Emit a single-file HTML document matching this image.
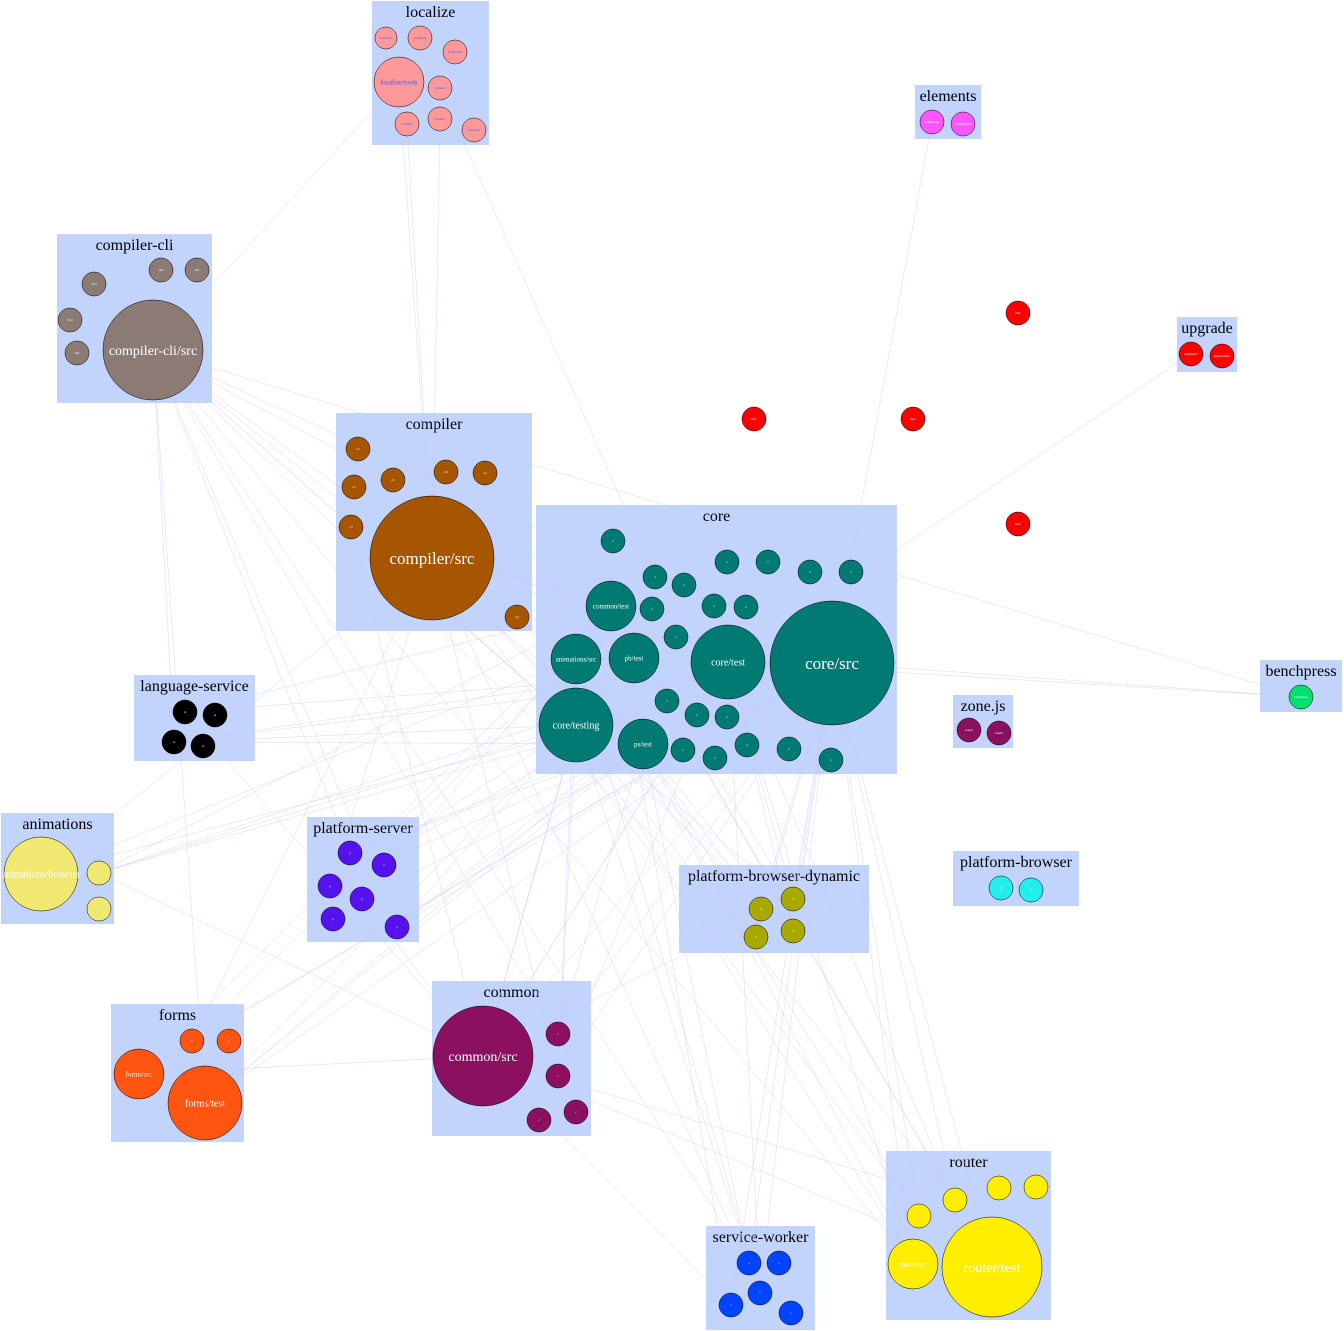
<!DOCTYPE html>
<html><head><meta charset="utf-8"><title>Dependency graph</title>
<style>
html,body{margin:0;padding:0;background:#fff;}
svg{display:block;font-family:"Liberation Serif",serif;}
</style></head>
<body>
<svg id="g" width="1344" height="1331" viewBox="0 0 1344 1331">
<g id="clusters"></g><g id="edges"></g><g id="nodes"></g>
</svg>
<script>
const clusterNames=["localize","elements","compiler-cli","upgrade","compiler","core","benchpress","zone.js","language-service","animations","platform-server","platform-browser-dynamic","platform-browser","forms","common","router","service-worker"];
const clusterBoxes=[[372,1,117,144],[915,85,66,54],[57,234,155,169],[1177,317,60,55],[336,413,196,218],[536,505,361,269],[1260,660,82,52],[953,695,60,53],[134,675,121,86],[1,813,113,111],[307,817,112,125],[679,865,190,88],[953,851,126,55],[111,1004,133,138],[432,981,159,155],[886,1151,165,169],[706,1226,109,104]];
const clusterColors={"localize":"#ff9999","elements":"#ff55ff","compiler-cli":"#8c7b75","upgrade":"#ff0000","compiler":"#a65500","core":"#007a72","benchpress":"#00e070","zone.js":"#8b1060","language-service":"#000000","animations":"#f0e870","platform-server":"#5511ee","platform-browser-dynamic":"#a8a800","platform-browser":"#22eeee","forms":"#ff5511","common":"#8b1060","router":"#ffee00","service-worker":"#0044ff","loose":"#ff0000"};
const nodes=[
["loc-tools","localize",399,82,25,"localize/tools"],["loc1","localize",386,38,11,"localize/src"],["loc2","localize",420,38,12,"localize/init"],["loc3","localize",455,52,12,"localize/test"],["loc4","localize",440,88,12,"localize/x"],["loc5","localize",440,119,12,"localize/y"],["loc6","localize",407,124,12,"localize/z"],["loc7","localize",474,130,12,"localize/w"],
["el1","elements",932,122,12,"elements/src"],["el2","elements",963,124,12,"elements/test"],
["cli-src","compiler-cli",153,350,50,"compiler-cli/src"],["cli1","compiler-cli",94,284,12,"cli/a"],["cli2","compiler-cli",161,270,12,"cli/b"],["cli3","compiler-cli",197,270,12,"cli/c"],["cli4","compiler-cli",70,320,12,"cli/d"],["cli5","compiler-cli",77,353,12,"cli/e"],
["up1","upgrade",1191,354,12,"upgrade/src"],["up2","upgrade",1222,356,12,"upgrade/static"],
["lo1","loose",1018,313,12,"misc"],["lo2","loose",754,419,12,"misc"],["lo3","loose",913,419,12,"misc"],["lo4","loose",1018,524,12,"misc"],
["comp-src","compiler",432,558,62,"compiler/src"],["cp1","compiler",358,449,12,"c/a"],["cp2","compiler",393,480,12,"c/b"],["cp3","compiler",354,487,12,"c/c"],["cp4","compiler",446,472,12,"c/d"],["cp5","compiler",485,473,12,"c/e"],["cp6","compiler",351,527,12,"c/f"],["cp7","compiler",517,617,12,"c/g"],
["core-src","core",832,663,62,"core/src"],["core-test","core",728,662,37,"core/test"],["core-testing","core",576,725,37,"core/testing"],["anim-src","core",576,659,25,"animations/src"],["common-test","core",611,606,25,"common/test"],["pb-test","core",634,658,25,"pb/test"],["ps-test","core",643,744,25,"ps/test"],
["co1","core",613,541,12,"x"],["co2","core",655,577,12,"x"],["co3","core",684,585,12,"x"],["co4","core",727,562,12,"x"],["co5","core",768,562,12,"x"],["co6","core",810,572,12,"x"],["co7","core",851,572,12,"x"],["co8","core",652,609,12,"x"],["co9","core",676,637,12,"x"],["co10","core",714,606,12,"x"],["co11","core",746,607,12,"x"],["co12","core",667,701,12,"x"],["co13","core",697,715,12,"x"],["co14","core",727,717,12,"x"],["co15","core",683,750,12,"x"],["co16","core",715,758,12,"x"],["co17","core",747,745,12,"x"],["co18","core",789,749,12,"x"],["co19","core",831,760,12,"x"],
["bp1","benchpress",1301,697,12,"benchpress"],
["zj1","zone.js",969,730,12,"zone/a"],["zj2","zone.js",999,733,12,"zone/b"],
["ls1","language-service",185,712,12,"ls"],["ls2","language-service",215,715,12,"ls"],["ls3","language-service",174,742,12,"ls"],["ls4","language-service",203,746,12,"ls"],
["anb","animations",41,874,37,"animations/browser"],["an1","animations",99,873,12,"a"],["an2","animations",99,909,12,"a"],
["ps1","platform-server",350,853,12,"p"],["ps2","platform-server",384,865,12,"p"],["ps3","platform-server",330,886,12,"p"],["ps4","platform-server",362,899,12,"p"],["ps5","platform-server",333,919,12,"p"],["ps6","platform-server",397,927,12,"p"],
["pbd1","platform-browser-dynamic",761,909,12,"d"],["pbd2","platform-browser-dynamic",793,899,12,"d"],["pbd3","platform-browser-dynamic",756,937,12,"d"],["pbd4","platform-browser-dynamic",793,931,12,"d"],
["pb1","platform-browser",1001,888,12,"b"],["pb2","platform-browser",1031,890,12,"b"],
["forms-src","forms",139,1074,25,"forms/src"],["forms-test","forms",205,1103,37,"forms/test"],["fo1","forms",192,1041,12,"f"],["fo2","forms",229,1041,12,"f"],
["common-src","common",483,1056,50,"common/src"],["cm1","common",558,1034,12,"c"],["cm2","common",558,1076,12,"c"],["cm3","common",539,1120,12,"c"],["cm4","common",576,1112,12,"c"],
["router-test","router",992,1267,50,"router/test"],["ro1","router",913,1264,25,"router/src"],["ro2","router",919,1216,12,"r"],["ro3","router",955,1200,12,"r"],["ro4","router",999,1188,12,"r"],["ro5","router",1036,1187,12,"r"],
["sw1","service-worker",749,1263,12,"s"],["sw2","service-worker",779,1263,12,"s"],["sw3","service-worker",760,1293,12,"s"],["sw4","service-worker",731,1305,12,"s"],["sw5","service-worker",791,1313,12,"s"]
];
const hubs=["core-src","core-test","core-testing","comp-src","common-src","cli-src","anim-src","common-test","ps-test"];
const targets=["ls1","ls3","anb","an1","ps1","ps3","ps4","ps6","pbd1","pbd2","pbd3","pbd4","forms-src","forms-test","fo1","common-src","cm1","cm2","router-test","ro1","ro2","ro3","sw1","sw3","sw4","cli-src","comp-src","cp6","cp7","core-src","core-test","core-testing"];
const extraEdges=[["el1","core-src"],["up1","core-test"],["bp1","core-src"],["bp1","core-test"],["loc-tools","comp-src"],["loc6","comp-src"],["loc5","comp-src"],["loc4","co2"],["loc-tools","cli-src"],["cli-src","bp1"]];

const NS="http://www.w3.org/2000/svg";
const byId={};nodes.forEach(n=>byId[n[0]]=n);
const cg=document.getElementById('clusters');
clusterNames.forEach((name,i)=>{
  const b=clusterBoxes[i];
  const r=document.createElementNS(NS,'rect');
  r.setAttribute('x',b[0]);r.setAttribute('y',b[1]);r.setAttribute('width',b[2]);r.setAttribute('height',b[3]);
  r.setAttribute('fill','#c2d3fc');
  
  
  cg.appendChild(r);
  const t=document.createElementNS(NS,'text');
  t.setAttribute('x',b[0]+b[2]/2);t.setAttribute('y',b[1]+16);
  t.setAttribute('text-anchor','middle');t.setAttribute('font-size','16');t.setAttribute('fill','#000');
  t.textContent=name;
  
  
  cg.appendChild(t);
});
const eg=document.getElementById('edges');
function edge(a,b){
  const l=document.createElementNS(NS,'line');
  l.setAttribute('x1',a[2]);l.setAttribute('y1',a[3]);l.setAttribute('x2',b[2]);l.setAttribute('y2',b[3]);
  l.setAttribute('stroke','#c4caff');l.setAttribute('stroke-width','0.5');l.setAttribute('stroke-opacity','0.75');
  
  
  eg.appendChild(l);
}
let k=0;
hubs.forEach((h,hi)=>{
  targets.forEach(tname=>{
    k++;
    if(h===tname) return;
    if(hi>2 && (k%3)!==0) return;
    if(hi>0 && hi<=2 && (k%2)!==0) return;
    edge(byId[h],byId[tname]);
  });
});
extraEdges.forEach(e=>edge(byId[e[0]],byId[e[1]]));
const ng=document.getElementById('nodes');
nodes.forEach(n=>{
  const c=document.createElementNS(NS,'circle');
  c.setAttribute('cx',n[2]);c.setAttribute('cy',n[3]);c.setAttribute('r',n[4]);
  c.setAttribute('fill',clusterColors[n[1]]);c.setAttribute('stroke','#000');c.setAttribute('stroke-width','0.5');
  
  
  ng.appendChild(c);
  const t=document.createElementNS(NS,'text');
  const fs=n[4]>=60?17:n[4]>=45?14:n[4]>=35?10:n[4]>=20?7:3;
  t.setAttribute('x',n[2]);t.setAttribute('y',n[3]+fs*0.35);
  t.setAttribute('text-anchor','middle');t.setAttribute('font-size',fs);
  t.setAttribute('fill',n[1]==='localize'?'#3355ff':'#fff');
  t.textContent=n[5];
  
  
  ng.appendChild(t);
});
</script>
</body></html>
